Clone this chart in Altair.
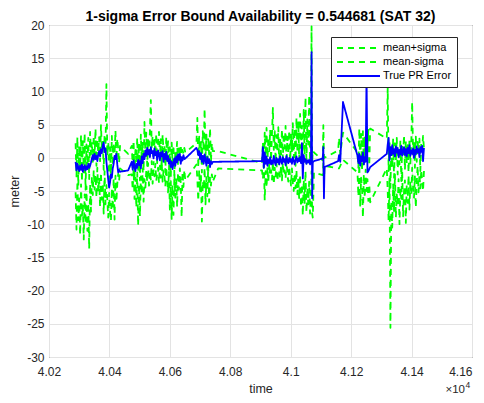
import altair as alt
import pandas as pd

SERIES = ["mean+sigma", "mean-sigma", "True PR Error"]
COLORS = ["#00ff00", "#00ff00", "#0000ff"]
DASHES = [[6, 5], [6, 5], [1, 0]]
WIDTHS = [1.8, 1.8, 2.0]
X_TICKS = [40200, 40400, 40600, 40800, 41000, 41200, 41400, 41600]
Y_TICKS = [-30, -25, -20, -15, -10, -5, 0, 5, 10, 15, 20]
TITLE = "1-sigma Error Bound Availability = 0.544681 (SAT 32)"
FONT = "Liberation Sans"

# ---- segment 1 ----
S1_T = [40288, 40291, 40294, 40297, 40300, 40303, 40306, 40309, 40312, 40315,
        40318, 40321, 40324, 40327, 40330, 40333, 40336, 40339, 40342, 40345,
        40348, 40351, 40354, 40357, 40360, 40363, 40366, 40369, 40372, 40375,
        40378, 40381, 40384, 40387, 40390, 40393, 40396, 40399, 40402, 40405,
        40408, 40411, 40414, 40417, 40420, 40423, 40426, 40429, 40432, 40435]
S1_ERR = [-0.6, -1.9, -0.9, -1.5, -2.0, -1.2, -1.8, -1.0, -2.1, -1.4,
          -1.1, -1.9, -1.3, -1.7, -0.9, -1.5, -1.2, -0.7, -0.1, 0.4,
          -0.3, 0.6, -0.2, 0.3, -0.5, 0.5, 1.0, 0.2, 1.3, 0.7,
          1.9, 2.3, 0.9, 1.4, -0.6, -1.9, -3.3, -4.5, -3.7, -2.5,
          -3.0, -1.6, -0.9, 0.3, -0.2, 0.6, -1.0, -2.2, -1.8, -2.1]
S1_UP = [2.2, -2.8, 3.1, -4.2, 1.8, -1.5, 3.4, -3.6, 2.5, -2.2,
         3.7, -4.8, 2.0, -1.0, 3.0, -3.2, 3.9, 0.5, 2.4, -0.6,
         3.3, 0.4, 4.4, -1.2, 2.6, 0.8, 3.1, -0.5, 4.9, 1.2,
         2.8, -1.8, 3.6, 1.0, 11.1, 0.3, 2.1, -3.2, 1.6, -2.5,
         3.3, -1.2, 2.2, 0.6, 4.1, -0.4, 2.9, 1.3, -0.8, 1.8]
S1_LO = [-5.2, -10.8, -3.5, -9.4, -6.1, -11.6, -4.0, -8.7, -7.2, -12.3,
         -5.5, -9.9, -4.3, -11.0, -6.8, -13.7, -3.9, -8.1, -2.8, -5.6,
         -1.9, -4.8, -2.6, -6.0, -1.5, -5.2, -3.0, -7.4, -2.2, -6.3,
         -3.8, -8.4, -2.0, -7.0, -4.1, -6.2, -9.0, -5.3, -8.0, -9.5,
         -4.6, -7.8, -3.1, -9.3, -2.7, -6.6, -4.0, -2.4, -3.5, -1.6]

# ---- gap ----
G1_T = [40462]
G1_ERR = [-1.9]
G1_UP = [0.6]
G1_LO = [-2.6]

# ---- segment 2 ----
S2_T = [40474, 40477, 40480, 40483, 40486, 40489, 40492, 40495, 40498, 40501,
        40504, 40507, 40510, 40513, 40516, 40519, 40522, 40525, 40528, 40531,
        40534, 40537, 40540, 40543, 40546, 40549, 40552, 40555, 40558, 40561,
        40564, 40567, 40570, 40573, 40576, 40579, 40582, 40585, 40588, 40591,
        40594, 40597, 40600, 40603, 40606, 40609, 40612, 40615, 40618, 40621,
        40624, 40627, 40630, 40633, 40636, 40639, 40642, 40645, 40648, 40651]
S2_ERR = [-0.6, -1.8, -0.4, -1.3, -2.0, -0.9, -1.5, -0.3, -1.1, -0.5,
          -1.6, 0.2, -0.8, 0.6, -0.2, 1.1, 0.3, 1.5, 0.5, 1.2,
          0.1, 1.6, 0.7, 1.0, -0.1, 1.4, 0.4, 0.9, -0.3, 1.1,
          0.5, -0.4, 0.8, 0.2, 1.0, -0.6, 0.6, -0.2, 0.9, -0.5,
          0.3, -0.9, -0.2, -1.4, -0.6, -1.7, -0.8, -0.1, -1.2, 0.2,
          -0.7, 0.5, -0.3, 0.6, -0.9, 0.1, -0.4, 0.4, -0.2, -0.1]
S2_UP = [1.8, -1.5, 2.6, -2.8, 1.2, -0.5, 3.0, -1.8, 2.2, -3.4,
         3.5, -0.8, 2.4, -2.0, 5.4, 0.2, 3.8, -1.2, 2.9, 0.6,
         4.1, 8.7, 1.5, 3.3, -1.0, 2.7, 0.5, 3.6, -0.8, 2.2,
         3.9, 0.1, 2.8, -1.4, 3.5, 0.9, 2.0, -2.2, 3.1, 0.4,
         2.5, -1.8, 1.6, -3.0, 2.3, -0.9, 1.9, -2.6, 1.0, 0.2,
         2.4, -1.1, 1.4, 0.3, 2.0, -0.4, 1.2, 0.6, 1.5, 0.8]
S2_LO = [-2.5, -4.8, -1.8, -6.2, -3.0, -7.5, -2.2, -10.2, -4.0, -8.8,
         -2.8, -5.5, -1.6, -6.6, -3.2, -4.5, -1.9, -3.6, -0.8, -4.2,
         -2.0, -3.3, -0.5, -3.9, -1.7, -2.8, -0.9, -3.5, -2.4, -1.5,
         -3.8, -1.2, -3.0, -0.6, -3.6, -1.9, -2.7, -4.3, -1.4, -3.1,
         -5.2, -2.0, -7.8, -3.5, -9.2, -4.1, -8.6, -2.5, -6.0, -3.0,
         -7.4, -2.2, -4.8, -1.6, -3.7, -8.9, -2.1, -4.4, -1.8, -3.4]

# ---- gap ----
G2_T = [40688]
G2_ERR = [1.5]
G2_UP = [2.2]
G2_LO = [-1.0]

# ---- segment 3 ----
S3_T = [40691, 40694, 40697, 40700, 40703, 40706, 40709, 40712, 40715, 40718,
        40721, 40724, 40727, 40730, 40733, 40736, 40739, 40742]
S3_ERR = [1.2, 0.4, 1.0, -0.2, 0.7, -0.6, 0.3, -0.9, 0.5, -0.3,
          -1.2, 0.1, -0.8, -0.2, -1.4, -0.5, -0.9, -0.6]
S3_UP = [6.0, -1.5, 3.2, -0.5, 2.4, -2.2, 4.0, 1.0, 7.4, 0.2,
         3.5, -1.8, 2.8, 0.5, 4.5, -0.6, 2.2, 1.0]
S3_LO = [-3.2, -6.5, -1.8, -5.0, -2.6, -9.6, -3.5, -4.8, -1.5, -7.0,
         -2.9, -5.8, -1.2, -6.6, -3.0, -4.2, -2.5, -3.6]

# ---- gap ----
G3_T = [40760, 40905]
G3_ERR = [-0.6, -0.5]
G3_UP = [1.0, -0.8]
G3_LO = [-1.6, -1.9]

# ---- segment 4 ----
S4_T = [40908, 40911, 40914, 40917, 40920, 40923, 40926, 40929, 40932, 40935,
        40938, 40941, 40944, 40947, 40950, 40953, 40956, 40959, 40962, 40965,
        40968, 40971, 40974, 40977, 40980, 40983, 40986, 40989, 40992, 40995,
        40998, 41001, 41004, 41007, 41010, 41013, 41016, 41019, 41022, 41025,
        41028, 41031, 41034, 41037, 41040, 41043, 41046, 41049, 41052, 41055,
        41058, 41061, 41064, 41067]
S4_ERR = [1.6, -1.5, 0.8, -0.9, 0.2, -1.2, -0.3, -0.8, 0.1, -1.0,
          -0.4, -0.9, 0.3, -0.6, -1.1, 0.0, -0.7, -0.2, -1.0, 0.2,
          -0.5, -0.9, 0.1, -0.6, -0.2, -1.1, 0.3, -0.5, -0.8, 0.0,
          -0.6, -0.2, -0.9, 0.1, -0.4, -1.0, -0.3, 0.2, -0.7, -0.1,
          -0.5, 0.1, -0.8, 2.2, -3.1, 0.4, -0.6, -0.2, -0.9, -0.4,
          -0.7, -0.3, -1.0, -0.5]
S4_UP = [2.4, -1.5, 3.8, 0.2, 4.5, -0.8, 3.1, 1.0, 4.2, -0.4,
         3.6, 7.5, 1.2, 4.0, -0.6, 3.4, 0.8, 4.6, -1.0, 3.0,
         0.5, 4.3, -0.2, 3.7, 1.4, 4.8, -0.9, 3.2, 0.6, 4.1,
         -0.5, 3.5, 1.0, 5.2, 0.0, 4.4, -1.2, 6.0, 0.8, 5.5,
         -0.3, 6.6, 1.5, 4.8, -0.8, 7.2, 0.4, 9.1, -1.0, 5.8,
         2.0, 9.4, -0.5, 6.3]
S4_LO = [-3.2, -1.0, -6.4, -2.0, -4.5, -1.4, -3.6, -0.8, -2.7, -1.9,
         -3.3, -0.6, -4.0, -1.5, -2.8, -0.9, -3.5, -1.8, -2.2, -3.0,
         -1.2, -3.4, -0.7, -2.6, -1.9, -3.1, -0.5, -2.4, -3.6, -1.3,
         -2.9, -4.2, -1.6, -3.8, -5.0, -2.3, -4.6, -1.8, -5.5, -3.0,
         -6.2, -2.5, -7.4, -4.0, -8.7, -3.3, -6.8, -2.0, -8.2, -4.5,
         -7.0, -3.6, -8.4, -5.2]

# ---- spikes around 4.107 - 4.117 ----
G4_T = [41069, 41071, 41073, 41077, 41106, 41108, 41110, 41112,
        41157, 41160, 41164, 41173]
G4_ERR = [15.9, -6.1, -0.7, -0.5, -0.1, 1.6, -6.1, -1.4,
          -0.5, 0.4, -0.6, 8.4]
G4_UP = [19.8, -1.0, 1.1, 0.8, -0.4, 4.9, 0.2, 0.0,
         1.1, 3.0, 0.5, 3.8]
G4_LO = [-2.0, -8.4, -9.0, -2.2, -2.6, -0.8, -3.7, -1.2,
         -1.6, -1.6, -1.2, -0.3]

# ---- segment 5 ----
S5_T = [41221, 41224, 41227, 41230, 41233, 41236, 41239, 41242, 41245, 41248,
        41251, 41254, 41257, 41260, 41263]
S5_ERR = [0.3, -0.8, 0.6, -1.2, 0.2, -0.5, 0.8, -1.0, 0.1, -0.6,
          12.5, -2.2, -2.0, -1.7, -1.4]
S5_UP = [0.8, -1.5, 4.4, -0.8, 3.6, -2.0, 4.0, -1.0, 3.2, -0.4,
         2.8, 1.5, 4.2, -1.2, 4.4]
S5_LO = [-2.2, -5.8, -1.0, -7.2, -3.0, -4.5, -9.0, -2.5, -6.0, -1.8,
         -5.0, -3.2, -6.5, -4.0, -6.7]

# ---- gap ----
G5_T = [41318]
G5_ERR = [0.6]
G5_UP = [2.9]
G5_LO = [-1.6]

# ---- segment 6 ----
S6_T = [41321, 41324, 41327, 41330, 41333, 41336, 41339, 41342, 41345, 41348,
        41351, 41354, 41357, 41360, 41363, 41366, 41369, 41372, 41375, 41378,
        41381, 41384, 41387, 41390, 41393, 41396, 41399, 41402, 41405, 41408,
        41411, 41414, 41417, 41420, 41423, 41426, 41429, 41432, 41435, 41438,
        41441]
S6_ERR = [2.0, 3.0, -0.4, 1.6, 0.4, 1.9, 0.6, 1.3, 0.2, 1.7,
          0.8, 1.5, 0.1, 1.2, 0.5, 1.8, 0.3, 1.0, 1.6, 0.4,
          1.3, 0.2, 1.5, 0.7, 1.9, 0.3, 1.1, 0.6, 1.4, 0.0,
          1.2, 0.5, 1.7, 0.8, 1.3, 0.1, 1.6, 0.9, 1.8, -0.5,
          1.5]
S6_UP = [10.5, -2.0, 2.6, -4.5, 1.8, -1.5, 2.9, -3.0, 2.2, -0.5,
         3.0, -2.5, 1.6, -1.0, 2.7, -3.5, 2.1, 0.2, 3.4, -1.8,
         2.5, -0.8, 1.9, -2.2, 2.8, -1.0, 2.3, 8.4, 0.5, 2.6,
         -1.5, 3.2, -0.6, 2.4, 1.0, 2.9, -2.0, 2.2, 1.2, 3.3,
         1.4]
S6_LO = [-5.0, -9.5, -3.0, -25.6, -6.5, -10.5, -4.0, -8.2, -2.5, -9.0,
         -5.5, -7.0, -3.2, -10.0, -4.8, -6.2, -2.0, -8.8, -5.0, -3.4,
         -9.8, -4.0, -6.8, -2.6, -7.8, -3.5, -5.6, -1.5, -4.4, -6.0,
         -2.8, -7.5, -3.8, -1.2, -5.2, -2.4, -4.6, -1.8, -3.6, -5.0,
         -2.0]

T = S1_T + G1_T + S2_T + G2_T + S3_T + G3_T + S4_T + G4_T + S5_T + G5_T + S6_T
ERR = S1_ERR + G1_ERR + S2_ERR + G2_ERR + S3_ERR + G3_ERR + S4_ERR + G4_ERR + S5_ERR + G5_ERR + S6_ERR
UP = S1_UP + G1_UP + S2_UP + G2_UP + S3_UP + G3_UP + S4_UP + G4_UP + S5_UP + G5_UP + S6_UP
LO = S1_LO + G1_LO + S2_LO + G2_LO + S3_LO + G3_LO + S4_LO + G4_LO + S5_LO + G5_LO + S6_LO
assert len(T) == len(ERR) == len(UP) == len(LO), (len(T), len(ERR), len(UP), len(LO))

rows = []
for name, vals in zip(SERIES, [UP, LO, ERR]):
    for t, v in zip(T, vals):
        rows.append({"time": t, "value": v, "series": name})
df = pd.DataFrame(rows)

legend = alt.Legend(
    title=None, orient="none", legendX=282, legendY=12,
    symbolType="stroke", symbolSize=1849, clipHeight=12, rowPadding=2,
    strokeColor="#262626", fillColor="white", padding=5,
    labelFont=FONT, labelFontSize=11, labelColor="black", labelOffset=2,
)

enc = dict(
    x=alt.X("time:Q",
            scale=alt.Scale(domain=[40200, 41600], nice=False, zero=False),
            axis=alt.Axis(values=X_TICKS, labelExpr="format(datum.value/10000, '.2~f')",
                          title="time", grid=True, ticks=False, domain=False,
                          labelFlush=False,
                          labelAlign=alt.ConditionalAxisLabelAlign(
                              condition={"test": "datum.value == 41600", "value": "right"},
                              value="center"),
                          labelPadding=9, titlePadding=5)),
    y=alt.Y("value:Q",
            scale=alt.Scale(domain=[-30, 20], nice=False, zero=False),
            axis=alt.Axis(values=Y_TICKS, labelExpr="'' + datum.value",
                          title="meter", grid=True, ticks=False, domain=False,
                          labelPadding=5, titlePadding=5)),
    color=alt.Color("series:N", scale=alt.Scale(domain=SERIES, range=COLORS), legend=legend),
    strokeDash=alt.StrokeDash("series:N", scale=alt.Scale(domain=SERIES, range=DASHES), legend=legend),
    strokeWidth=alt.StrokeWidth("series:N", scale=alt.Scale(domain=SERIES, range=WIDTHS), legend=legend),
)

base = alt.Chart(df).encode(**enc)
layers = []
for name in SERIES:
    layers.append(base.transform_filter(alt.datum.series == name)
                  .mark_line(clip=True, strokeJoin="round", strokeCap="butt"))

exp_main = alt.Chart(pd.DataFrame({"t": ["\u00d710"]})).mark_text(
    align="right", baseline="alphabetic", font=FONT, fontSize=11.5, color="#262626"
).encode(x=alt.value(416), y=alt.value(368), text="t:N")
exp_sup = alt.Chart(pd.DataFrame({"t": ["4"]})).mark_text(
    align="left", baseline="alphabetic", font=FONT, fontSize=8.5, color="#262626"
).encode(x=alt.value(416.5), y=alt.value(363), text="t:N")

chart = alt.layer(*layers, exp_main, exp_sup).properties(
    width=423, height=332,
    title=alt.TitleParams(TITLE, font=FONT, fontSize=14, fontWeight="bold",
                          color="black", offset=3, dy=8, anchor="middle", frame="group"),
    padding={"left": 41, "top": 17, "right": 4, "bottom": 38},
    autosize=alt.AutoSizeParams(type="none"),
).configure_view(stroke="#262626", strokeWidth=1).configure_axis(
    labelFont=FONT, labelFontSize=12, labelColor="#262626",
    titleFont=FONT, titleFontSize=12.5, titleColor="#262626", titleFontWeight="normal",
    gridColor="#e3e3e3", gridWidth=1,
)

chart.save("out.html", embed_options={"renderer": "svg", "actions": False})
